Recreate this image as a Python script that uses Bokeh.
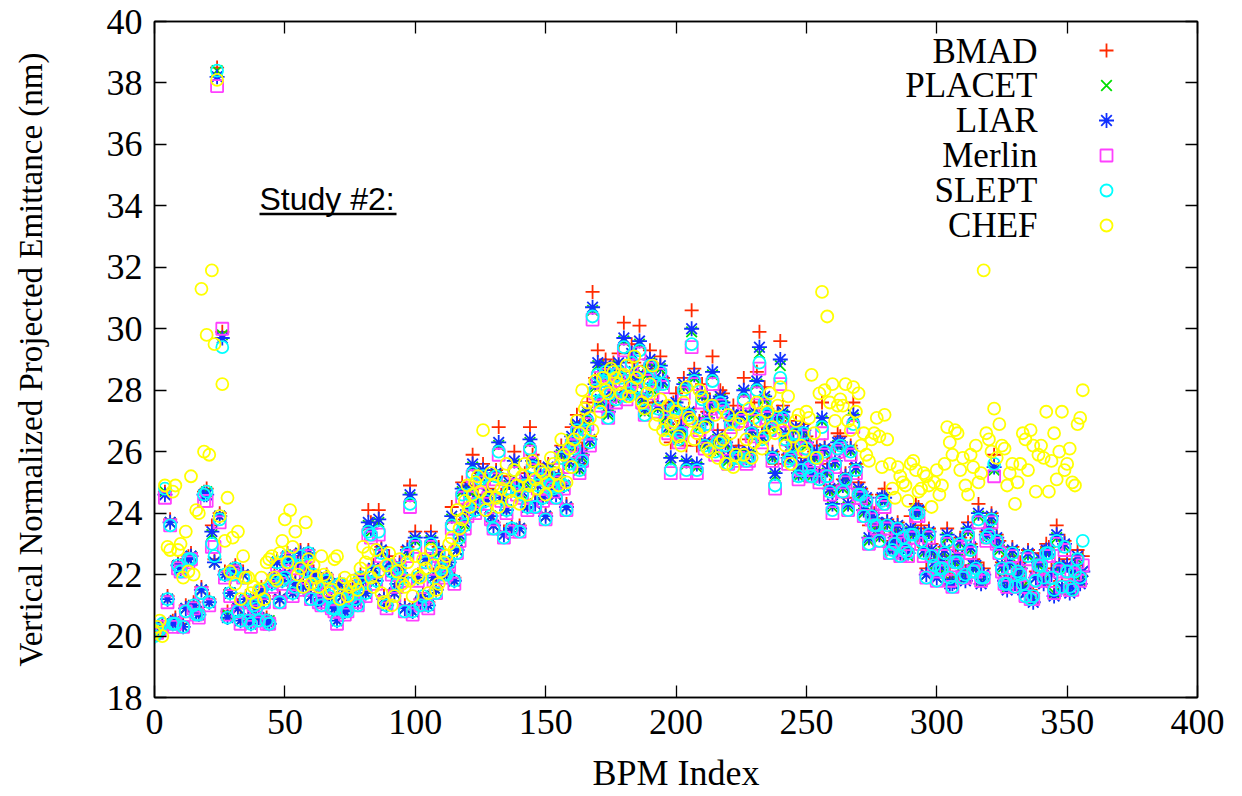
from bokeh.plotting import figure
from bokeh.models import Range1d, LinearAxis, Label, FixedTicker, CustomJSTickFormatter
from bokeh.embed import file_html
from bokeh.resources import INLINE

# ---------------- data ----------------
bpm_even = list(range(0, 357, 2))
bpm_odd = list(range(1, 356, 2))

bmad_even = [
    20.1, 20.3, 24.7, 23.8, 20.6, 22.3, 21.0, 22.7, 20.9, 21.6,
    24.8, 23.6, 38.5, 29.9, 20.8, 22.2, 21.0, 22.1, 20.6, 21.2,
    20.7, 21.3, 20.5, 22.0, 21.3, 22.1, 22.6, 21.8, 22.8, 22.3,
    21.4, 21.9, 21.2, 22.0, 21.1, 20.6, 21.4, 21.0, 21.6, 21.2,
    21.9, 24.1, 22.3, 24.1, 21.3, 22.6, 21.5, 22.4, 21.0, 24.9,
    23.4, 21.2, 22.6, 23.4, 21.6, 22.4, 22.2, 24.2, 22.9, 25.0,
    24.3, 25.9, 24.6, 25.6, 24.8, 23.7, 26.8, 23.4, 25.2, 26.0,
    23.6, 25.3, 26.8, 24.4, 25.5, 24.0, 25.3, 24.8, 26.2, 24.3,
    26.8, 27.2, 26.1, 27.6, 31.2, 29.3, 28.8, 27.5, 28.9, 29.2,
    30.2, 28.3, 28.9, 30.1, 27.6, 29.3, 28.7, 29.1, 27.4, 26.3,
    27.9, 27.0, 26.2, 30.6, 26.2, 28.2, 27.3, 29.1, 26.7, 27.9,
    26.0, 27.5, 26.2, 28.4, 26.4, 27.6, 29.9, 28.1, 27.1, 25.6,
    29.6, 26.8, 26.2, 27.0, 25.8, 26.5, 25.4, 26.2, 27.6, 25.6,
    24.7, 26.6, 25.1, 24.5, 27.6, 25.0, 24.3, 23.6, 24.0, 23.5,
    24.8, 23.1, 23.4, 22.9, 23.2, 23.9, 24.3, 23.6, 22.2, 23.0,
    22.1, 22.6, 23.5, 21.9, 22.8, 22.3, 23.7, 22.5, 24.3, 22.2,
    23.7, 25.9, 23.1, 22.0, 22.6, 21.9, 22.4, 21.6, 21.5, 22.1,
    22.7, 23.0, 22.2, 23.6, 21.8, 22.5, 21.9, 22.8, 22.6,
]
bmad_odd = [
    20.2, 20.4, 21.3, 20.5, 22.4, 20.4, 22.6, 21.1, 20.8, 24.7,
    21.2, 22.5, 24.0, 22.1, 21.5, 22.3, 20.6, 21.3, 20.5, 21.0,
    21.6, 20.6, 21.8, 22.5, 21.9, 22.7, 21.5, 22.4, 21.7, 22.8,
    22.1, 21.3, 21.7, 21.4, 21.0, 21.8, 20.9, 21.5, 21.3, 22.0,
    21.5, 23.7, 21.9, 22.9, 21.1, 22.2, 21.8, 22.0, 22.9, 20.9,
    22.0, 21.4, 21.1, 22.0, 22.9, 22.1, 22.5, 21.9, 23.4, 23.8,
    24.9, 24.2, 25.3, 24.5, 24.0, 25.4, 24.6, 24.2, 23.6, 24.9,
    24.8, 24.3, 25.9, 25.0, 24.6, 25.6, 24.9, 25.3, 25.0, 25.8,
    26.3, 25.6, 27.0, 26.5, 28.4, 27.8, 29.0, 28.1, 27.9, 28.6,
    28.0, 29.5, 28.4, 27.9, 28.8, 28.2, 27.6, 28.4, 26.9, 27.6,
    26.6, 28.4, 27.4, 28.7, 27.0, 26.4, 27.7, 26.2, 28.0, 26.4,
    27.1, 26.0, 27.3, 25.9, 26.8, 28.6, 26.6, 27.4, 26.0, 27.3,
    27.5, 25.9, 26.4, 25.4, 26.9, 25.7, 26.0, 25.3, 26.2, 24.9,
    25.8, 26.5, 25.3, 26.2, 25.6, 24.8, 24.6, 24.1, 23.8, 24.6,
    23.8, 23.0, 23.7, 23.4, 22.8, 23.5, 24.2, 22.9, 23.5, 22.5,
    22.4, 22.9, 22.0, 22.6, 23.2, 22.1, 23.0, 22.4, 22.0, 23.4,
    24.0, 23.3, 22.4, 21.8, 22.9, 22.2, 21.8, 22.8, 21.4, 22.5,
    22.0, 22.9, 21.6, 22.4, 23.1, 21.7, 22.3, 22.0,
]

placet_even = [
    20.1, 20.2, 24.7, 23.7, 20.5, 22.2, 20.9, 22.6, 20.8, 21.5,
    24.7, 23.3, 38.4, 29.8, 20.7, 22.1, 20.9, 22.0, 20.6, 21.1,
    20.6, 21.2, 20.5, 21.9, 21.2, 22.0, 22.5, 21.7, 22.7, 22.2,
    21.3, 21.8, 21.1, 21.9, 21.0, 20.5, 21.3, 20.9, 21.5, 21.1,
    21.8, 23.6, 22.2, 23.7, 21.2, 22.4, 21.4, 22.3, 20.9, 24.5,
    23.1, 21.1, 22.5, 23.1, 21.5, 22.3, 22.1, 23.8, 22.8, 24.7,
    24.1, 25.5, 24.4, 25.3, 24.6, 23.6, 26.2, 23.3, 24.9, 25.6,
    23.5, 25.0, 26.3, 24.3, 25.2, 23.9, 25.0, 24.6, 25.9, 24.2,
    26.4, 26.8, 25.8, 27.2, 30.6, 28.8, 28.4, 27.2, 28.5, 28.8,
    29.6, 28.0, 28.5, 29.5, 27.3, 28.9, 28.3, 28.7, 27.1, 25.7,
    27.5, 26.7, 25.6, 29.9, 25.5, 27.8, 27.0, 28.5, 26.4, 27.5,
    25.7, 27.1, 25.9, 27.9, 25.9, 27.2, 29.2, 27.7, 26.8, 25.2,
    28.8, 26.5, 25.9, 26.7, 25.5, 26.2, 25.2, 25.9, 27.0, 25.3,
    24.2, 26.2, 24.8, 24.2, 27.1, 24.7, 24.0, 23.1, 23.7, 23.2,
    24.4, 22.8, 23.1, 22.6, 22.9, 23.4, 24.0, 23.2, 22.0, 22.7,
    21.9, 22.3, 23.2, 21.7, 22.5, 22.0, 23.4, 22.2, 23.9, 22.0,
    23.4, 25.4, 22.8, 21.8, 22.3, 21.7, 22.1, 21.4, 21.3, 21.9,
    22.4, 22.7, 22.0, 23.2, 21.6, 22.2, 21.6, 22.5, 22.1,
]
placet_odd = [
    20.1, 20.3, 21.2, 20.4, 22.3, 20.3, 22.5, 21.0, 20.7, 24.6,
    21.1, 22.4, 23.9, 22.0, 21.4, 22.2, 20.5, 21.2, 20.4, 20.9,
    21.5, 20.5, 21.7, 22.4, 21.8, 22.6, 21.4, 22.3, 21.6, 22.7,
    22.0, 21.2, 21.6, 21.3, 20.9, 21.7, 20.8, 21.4, 21.2, 21.9,
    21.4, 23.4, 21.8, 22.7, 21.0, 22.1, 21.7, 21.9, 22.7, 20.8,
    21.9, 21.3, 21.0, 21.9, 22.7, 22.0, 22.4, 21.8, 23.2, 23.6,
    24.7, 24.1, 25.1, 24.4, 23.9, 25.2, 24.5, 24.1, 23.5, 24.7,
    24.6, 24.2, 25.6, 24.9, 24.5, 25.4, 24.8, 25.1, 24.9, 25.6,
    26.1, 25.4, 26.8, 26.3, 28.1, 27.6, 28.7, 27.9, 27.7, 28.4,
    27.8, 29.1, 28.2, 27.7, 28.5, 28.0, 27.4, 28.2, 26.7, 27.4,
    26.4, 28.1, 27.2, 28.4, 26.8, 26.2, 27.5, 26.0, 27.7, 26.2,
    26.9, 25.8, 27.1, 25.7, 26.6, 28.2, 26.4, 27.2, 25.8, 27.1,
    27.2, 25.7, 26.2, 25.2, 26.6, 25.5, 25.8, 25.1, 26.0, 24.7,
    25.6, 26.2, 25.1, 26.0, 25.4, 24.6, 24.4, 23.9, 23.6, 24.4,
    23.6, 22.8, 23.5, 23.2, 22.6, 23.3, 24.0, 22.7, 23.3, 22.3,
    22.2, 22.7, 21.8, 22.4, 23.0, 21.9, 22.8, 22.2, 21.8, 23.2,
    23.8, 23.1, 22.2, 21.6, 22.7, 22.0, 21.6, 22.6, 21.2, 22.3,
    21.8, 22.7, 21.4, 22.2, 22.9, 21.5, 22.1, 21.8,
]

liar_even = [
    20.0, 20.2, 24.6, 23.7, 20.5, 22.2, 20.9, 22.6, 20.8, 21.5,
    24.6, 23.4, 38.2, 29.7, 20.6, 22.1, 20.9, 22.0, 20.6, 21.1,
    20.6, 21.2, 20.4, 21.9, 21.2, 22.0, 22.5, 21.7, 22.7, 22.2,
    21.3, 21.8, 21.1, 21.9, 21.0, 20.5, 21.3, 20.9, 21.5, 21.1,
    21.8, 23.7, 22.2, 23.8, 21.2, 22.4, 21.4, 22.3, 20.9, 24.6,
    23.2, 21.1, 22.5, 23.2, 21.5, 22.3, 22.1, 23.9, 22.8, 24.8,
    24.1, 25.6, 24.4, 25.4, 24.6, 23.6, 26.3, 23.3, 25.0, 25.7,
    23.5, 25.1, 26.4, 24.3, 25.3, 23.9, 25.1, 24.6, 26.0, 24.2,
    26.5, 26.9, 25.9, 27.3, 30.7, 28.9, 28.5, 27.3, 28.6, 28.9,
    29.7, 28.1, 28.6, 29.6, 27.4, 29.0, 28.4, 28.8, 27.2, 25.8,
    27.6, 26.8, 25.7, 30.0, 25.6, 27.9, 27.1, 28.6, 26.5, 27.6,
    25.8, 27.2, 26.0, 28.0, 26.0, 27.3, 29.4, 27.8, 26.9, 25.3,
    29.0, 26.6, 26.0, 26.8, 25.6, 26.3, 25.3, 26.0, 27.1, 25.4,
    24.3, 26.3, 24.9, 24.3, 27.2, 24.8, 24.1, 23.2, 23.8, 23.3,
    24.5, 22.9, 23.2, 22.7, 23.0, 23.5, 24.1, 23.3, 22.0, 22.8,
    21.9, 22.4, 23.3, 21.7, 22.6, 22.1, 23.5, 22.3, 24.0, 22.0,
    23.5, 25.5, 22.9, 21.8, 22.4, 21.7, 22.2, 21.4, 21.3, 21.9,
    22.5, 22.8, 22.0, 23.3, 21.6, 22.3, 21.6, 22.6, 22.1,
]
liar_odd = [
    20.1, 20.3, 21.2, 20.4, 22.3, 20.3, 22.5, 21.0, 20.7, 24.6,
    21.1, 22.4, 23.9, 22.0, 21.4, 22.2, 20.5, 21.2, 20.4, 20.9,
    21.5, 20.5, 21.7, 22.4, 21.8, 22.6, 21.4, 22.3, 21.6, 22.7,
    22.0, 21.2, 21.6, 21.3, 20.9, 21.7, 20.8, 21.4, 21.2, 21.9,
    21.4, 23.5, 21.8, 22.8, 21.0, 22.1, 21.7, 21.9, 22.8, 20.8,
    21.9, 21.3, 21.0, 21.9, 22.8, 22.0, 22.4, 21.8, 23.3, 23.7,
    24.8, 24.1, 25.2, 24.4, 23.9, 25.3, 24.5, 24.1, 23.5, 24.8,
    24.7, 24.2, 25.7, 24.9, 24.5, 25.5, 24.8, 25.2, 24.9, 25.7,
    26.2, 25.5, 26.9, 26.4, 28.2, 27.7, 28.8, 28.0, 27.8, 28.5,
    27.9, 29.2, 28.3, 27.8, 28.6, 28.1, 27.5, 28.3, 26.8, 27.5,
    26.5, 28.2, 27.3, 28.5, 26.9, 26.3, 27.6, 26.1, 27.8, 26.3,
    27.0, 25.9, 27.2, 25.8, 26.7, 28.3, 26.5, 27.3, 25.9, 27.2,
    27.3, 25.8, 26.3, 25.3, 26.7, 25.6, 25.9, 25.2, 26.1, 24.8,
    25.7, 26.3, 25.2, 26.1, 25.5, 24.7, 24.5, 24.0, 23.7, 24.5,
    23.7, 22.9, 23.6, 23.3, 22.7, 23.4, 24.1, 22.8, 23.4, 22.4,
    22.3, 22.8, 21.7, 22.5, 23.1, 21.8, 22.9, 22.3, 21.7, 23.3,
    23.9, 23.2, 22.3, 21.5, 22.8, 21.9, 21.5, 22.7, 21.1, 22.4,
    21.7, 22.8, 21.3, 22.3, 23.0, 21.4, 22.2, 21.7,
]

merlin_even = [
    20.1, 20.2, 24.5, 23.6, 20.4, 22.1, 20.8, 22.5, 20.7, 21.4,
    24.4, 22.9, 37.9, 30.0, 20.7, 22.0, 20.8, 21.9, 20.5, 21.0,
    20.5, 21.1, 20.4, 21.8, 21.1, 21.9, 22.4, 21.6, 22.6, 22.1,
    21.2, 21.7, 21.0, 21.8, 20.9, 20.4, 21.2, 20.8, 21.4, 21.0,
    21.7, 23.3, 22.1, 23.3, 21.1, 22.3, 21.3, 22.2, 20.8, 24.2,
    22.9, 21.0, 22.4, 22.9, 21.4, 22.2, 22.0, 23.5, 22.7, 24.5,
    23.9, 25.2, 24.3, 25.1, 24.5, 23.5, 25.9, 23.2, 24.8, 25.3,
    23.4, 24.9, 26.0, 24.2, 25.1, 23.8, 24.9, 24.5, 25.8, 24.1,
    26.2, 26.6, 25.7, 26.9, 30.3, 28.4, 28.2, 27.1, 28.3, 28.5,
    29.3, 27.9, 28.3, 29.2, 27.2, 28.7, 28.2, 28.5, 27.0, 25.3,
    27.3, 26.6, 25.3, 29.4, 25.3, 27.6, 26.9, 28.2, 26.3, 27.3,
    25.6, 26.9, 25.8, 27.6, 25.7, 27.0, 28.7, 27.5, 26.7, 24.8,
    28.2, 26.4, 25.8, 26.6, 25.4, 26.1, 25.2, 25.8, 26.6, 25.2,
    24.0, 26.0, 24.7, 24.1, 26.8, 24.6, 23.9, 23.0, 23.6, 23.1,
    24.2, 22.7, 23.0, 22.6, 22.8, 23.2, 23.9, 23.0, 21.9, 22.6,
    21.8, 22.2, 23.0, 21.6, 22.4, 21.9, 23.2, 22.1, 23.7, 21.9,
    23.2, 25.2, 22.7, 21.7, 22.2, 21.6, 22.0, 21.3, 21.2, 21.8,
    22.3, 22.6, 21.9, 23.0, 21.6, 22.1, 21.5, 22.4, 22.3,
]
merlin_odd = [
    20.1, 20.3, 21.1, 20.3, 22.2, 20.3, 22.4, 20.9, 20.6, 24.4,
    21.0, 22.9, 23.7, 21.9, 21.3, 22.1, 20.4, 21.1, 20.3, 20.8,
    21.4, 20.4, 21.6, 22.3, 21.7, 22.5, 21.3, 22.2, 21.5, 22.6,
    21.9, 21.1, 21.5, 21.2, 20.8, 21.6, 20.7, 21.3, 21.1, 21.8,
    21.3, 23.2, 21.7, 22.6, 20.9, 22.0, 21.6, 21.8, 22.6, 20.7,
    21.8, 21.2, 20.9, 21.8, 22.6, 21.9, 22.3, 21.7, 23.1, 23.5,
    24.5, 24.0, 25.0, 24.3, 23.8, 25.1, 24.4, 24.0, 23.4, 24.6,
    24.5, 24.1, 25.4, 24.8, 24.4, 25.2, 24.7, 25.0, 24.8, 25.5,
    26.0, 25.3, 26.6, 26.2, 27.9, 27.5, 28.5, 27.8, 27.6, 28.3,
    27.7, 28.8, 28.0, 27.6, 28.3, 27.9, 27.3, 28.1, 26.6, 27.3,
    26.3, 27.9, 27.1, 28.2, 26.7, 26.1, 27.4, 25.9, 27.5, 26.1,
    26.8, 25.7, 27.0, 25.6, 26.5, 27.9, 26.3, 27.1, 25.7, 27.0,
    27.0, 25.6, 26.1, 25.1, 26.5, 25.4, 25.7, 25.0, 25.9, 24.6,
    25.5, 26.1, 25.0, 25.9, 25.3, 24.5, 24.3, 23.8, 23.5, 24.3,
    23.5, 22.7, 23.4, 23.1, 22.6, 23.2, 23.9, 22.6, 23.2, 22.2,
    22.1, 22.6, 21.8, 22.3, 22.9, 21.9, 22.7, 22.1, 21.8, 23.1,
    23.7, 23.0, 22.1, 21.6, 22.6, 22.0, 21.6, 22.5, 21.2, 22.2,
    21.8, 22.6, 21.4, 22.1, 22.8, 21.5, 22.0, 21.8,
]

slept_even = [
    20.0, 20.2, 24.8, 23.6, 20.4, 22.1, 20.8, 22.5, 20.7, 21.4,
    24.7, 23.0, 38.4, 29.4, 20.6, 22.0, 20.8, 21.9, 20.5, 21.0,
    20.5, 21.1, 20.4, 21.8, 21.1, 21.9, 22.4, 21.6, 22.6, 22.1,
    21.2, 21.7, 21.0, 21.8, 20.9, 20.5, 21.2, 20.8, 21.4, 21.0,
    21.7, 23.4, 22.1, 23.4, 21.1, 22.3, 21.3, 22.2, 20.8, 24.3,
    23.0, 21.0, 22.4, 23.0, 21.4, 22.2, 22.0, 23.6, 22.7, 24.6,
    24.0, 25.3, 24.3, 25.2, 24.5, 23.5, 26.0, 23.2, 24.8, 25.4,
    23.4, 24.9, 26.1, 24.2, 25.1, 23.8, 24.9, 24.5, 25.8, 24.1,
    26.3, 26.7, 25.7, 27.0, 30.4, 28.5, 28.3, 27.1, 28.4, 28.6,
    29.4, 27.9, 28.4, 29.3, 27.2, 28.8, 28.2, 28.6, 27.0, 25.4,
    27.4, 26.6, 25.4, 29.5, 25.4, 27.7, 26.9, 28.3, 26.3, 27.4,
    25.6, 27.0, 25.8, 27.7, 25.8, 27.1, 28.9, 27.6, 26.7, 24.9,
    28.4, 26.4, 25.8, 26.6, 25.4, 26.1, 25.2, 25.8, 26.8, 25.2,
    24.1, 26.1, 24.7, 24.1, 26.9, 24.6, 23.9, 23.0, 23.6, 23.1,
    24.3, 22.7, 23.0, 22.6, 22.8, 23.3, 24.0, 23.1, 21.9, 22.6,
    21.8, 22.2, 23.1, 21.6, 22.4, 21.9, 23.3, 22.1, 23.8, 21.9,
    23.3, 25.6, 22.7, 21.7, 22.2, 21.6, 22.0, 21.3, 21.2, 21.8,
    22.3, 22.7, 21.9, 23.1, 21.6, 22.1, 21.5, 22.5, 23.1,
]
slept_odd = [
    20.1, 20.4, 21.2, 20.4, 22.3, 20.3, 22.5, 21.0, 20.7, 24.6,
    21.1, 22.6, 23.8, 22.0, 21.4, 22.2, 20.5, 21.2, 20.4, 20.9,
    21.5, 20.5, 21.7, 22.4, 21.8, 22.6, 21.4, 22.3, 21.6, 22.7,
    22.0, 21.2, 21.6, 21.3, 20.9, 21.7, 20.8, 21.4, 21.2, 21.9,
    21.4, 23.3, 21.8, 22.7, 21.0, 22.1, 21.7, 21.9, 22.7, 20.8,
    21.9, 21.3, 21.0, 21.9, 22.7, 22.0, 22.4, 21.8, 23.2, 23.6,
    24.6, 24.1, 25.1, 24.4, 23.9, 25.2, 24.5, 24.1, 23.5, 24.7,
    24.6, 24.2, 25.5, 24.9, 24.5, 25.3, 24.8, 25.1, 24.9, 25.6,
    26.1, 25.4, 26.7, 26.3, 28.0, 27.6, 28.6, 27.9, 27.7, 28.4,
    27.8, 28.9, 28.1, 27.7, 28.4, 28.0, 27.4, 28.2, 26.7, 27.4,
    26.4, 28.0, 27.2, 28.3, 26.8, 26.2, 27.5, 26.0, 27.6, 26.2,
    26.9, 25.8, 27.1, 25.7, 26.6, 28.0, 26.4, 27.2, 25.8, 27.1,
    27.1, 25.7, 26.2, 25.2, 26.6, 25.5, 25.8, 25.1, 26.0, 24.7,
    25.6, 26.2, 25.1, 26.0, 25.4, 24.6, 24.4, 23.9, 23.6, 24.4,
    23.6, 22.8, 23.5, 23.2, 22.7, 23.3, 24.0, 22.7, 23.3, 22.3,
    22.2, 22.7, 21.9, 22.4, 23.0, 22.0, 22.8, 22.2, 21.9, 23.2,
    23.8, 23.1, 22.2, 21.7, 22.7, 22.1, 21.7, 22.6, 21.3, 22.3,
    21.9, 22.7, 21.5, 22.2, 22.9, 21.6, 22.1, 21.9,
]

chef_even = [
    20.1, 20.5, 24.9, 22.8, 24.9, 23.0, 23.4, 25.2, 24.1, 31.3,
    29.8, 31.9, 38.1, 28.2, 24.5, 23.2, 23.4, 22.6, 21.9, 21.6,
    21.5, 21.2, 22.5, 21.9, 22.7, 23.8, 24.1, 23.4, 22.2, 23.7,
    21.7, 21.9, 22.6, 21.9, 21.5, 22.6, 21.7, 21.3, 21.8, 21.5,
    22.9, 22.7, 21.6, 22.1, 21.1, 22.7, 21.3, 22.5, 21.6, 21.8,
    22.6, 21.9, 22.2, 22.8, 21.5, 22.1, 22.6, 23.2, 24.1, 23.8,
    24.9, 24.6, 25.2, 26.7, 24.5, 24.9, 24.2, 25.1, 24.7, 25.4,
    24.3, 25.6, 24.9, 25.1, 25.4, 24.6, 25.8, 25.3, 26.4, 25.0,
    25.5, 27.0, 28.0, 27.6, 26.7, 27.8, 28.4, 27.9, 28.6, 28.2,
    28.5, 27.8, 29.1, 28.6, 27.4, 28.2, 26.9, 27.7, 26.4, 26.9,
    27.3, 26.2, 28.1, 27.0, 26.6, 27.8, 26.1, 27.5, 25.8, 26.4,
    27.2, 25.5, 26.9, 25.9, 27.4, 26.3, 27.0, 26.5, 27.9, 26.6,
    28.1, 26.2, 25.6, 27.0, 26.2, 27.3, 28.5, 25.8, 31.2, 30.4,
    28.2, 27.5, 27.5, 27.0, 28.1, 27.9, 26.6, 25.7, 26.6, 26.5,
    27.2, 25.6, 24.5, 25.2, 24.9, 25.6, 25.4, 24.8, 25.2, 24.2,
    25.4, 24.9, 26.8, 25.9, 26.6, 25.8, 24.6, 25.5, 25.0, 31.9,
    26.4, 27.4, 26.9, 26.1, 25.3, 24.3, 25.6, 26.4, 26.7, 24.7,
    26.2, 27.3, 25.7, 25.1, 27.3, 25.6, 25.0, 26.9, 28.0,
]
chef_odd = [
    20.3, 20.0, 22.9, 24.7, 22.8, 21.9, 22.1, 22.0, 24.0, 26.0,
    25.9, 29.5, 23.9, 23.1, 22.1, 21.7, 21.2, 21.9, 21.4, 21.1,
    21.9, 22.4, 22.6, 21.8, 23.1, 22.4, 22.9, 22.0, 21.6, 22.5,
    22.3, 21.6, 22.0, 21.4, 22.5, 21.2, 21.9, 21.6, 21.7, 22.2,
    22.4, 21.9, 22.8, 21.4, 22.3, 21.0, 22.1, 21.7, 22.4, 21.3,
    22.0, 22.5, 21.4, 22.3, 21.7, 22.4, 23.0, 22.8, 23.5, 24.4,
    24.2, 25.0, 24.7, 24.1, 25.3, 24.5, 24.8, 25.6, 24.4, 24.9,
    25.2, 24.6, 25.7, 24.8, 25.3, 25.0, 25.6, 24.9, 25.9, 26.1,
    26.4, 26.6, 27.4, 27.1, 28.3, 27.3, 28.0, 28.7, 28.4, 27.9,
    28.8, 28.1, 28.4, 27.6, 27.9, 28.8, 27.2, 26.7, 27.5, 27.0,
    26.5, 27.6, 27.1, 26.4, 28.0, 26.8, 26.0, 27.2, 26.3, 25.6,
    26.6, 25.9, 27.1, 26.4, 25.8, 27.6, 26.1, 27.3, 26.8, 27.5,
    26.7, 27.8, 26.5, 27.2, 26.0, 27.1, 26.6, 27.9, 28.0, 27.6,
    27.0, 27.7, 28.2, 26.7, 27.3, 26.2, 25.9, 26.4, 27.1, 25.5,
    26.4, 24.8, 25.5, 25.0, 24.4, 25.7, 24.7, 25.3, 24.9, 25.0,
    24.6, 25.6, 26.3, 26.7, 25.4, 24.9, 25.9, 26.2, 25.3, 26.6,
    26.0, 25.8, 26.2, 24.9, 25.6, 25.0, 26.6, 25.4, 26.2, 25.9,
    25.8, 24.7, 26.6, 26.0, 25.4, 26.1, 24.9, 27.1,
]

series_names = ["BMAD", "PLACET", "LIAR", "Merlin", "SLEPT", "CHEF"]
series_values = [
    (bmad_even, bmad_odd), (placet_even, placet_odd), (liar_even, liar_odd),
    (merlin_even, merlin_odd), (slept_even, slept_odd), (chef_even, chef_odd),
]
x_ticks = [0, 50, 100, 150, 200, 250, 300, 350, 400]
y_ticks = [18, 20, 22, 24, 26, 28, 30, 32, 34, 36, 38, 40]

# ---------------- styles ----------------
markers = ["cross", "x", "asterisk", "square", "circle", "circle"]
colors = ["#ff2a00", "#00e000", "#1030ff", "#ff40ff", "#00ffff", "#ffff00"]
sizes = [14, 15, 15, 12, 12, 12]
SERIF = "Liberation Serif"

p = figure(width=1242, height=796, output_backend="svg", toolbar_location=None,
           x_range=Range1d(0, 400), y_range=Range1d(18, 40),
           min_border_left=154, min_border_right=45, min_border_top=21,
           min_border_bottom=99,
           x_axis_label="BPM Index",
           y_axis_label="Vertical Normalized Projected Emittance (nm)")
p.background_fill_color = "white"
p.border_fill_color = "white"
p.outline_line_color = "black"
p.outline_line_width = 1.5
p.xgrid.visible = False
p.ygrid.visible = False

p.add_layout(LinearAxis(), "above")
p.add_layout(LinearAxis(), "right")


def style_axis(ax, ticks, show_labels):
    ax.ticker = FixedTicker(ticks=ticks)
    ax.major_tick_in = 12
    ax.major_tick_out = 0
    ax.minor_tick_in = 0
    ax.minor_tick_out = 0
    ax.axis_line_color = "black"
    ax.axis_line_width = 1.5
    ax.major_tick_line_color = "black"
    ax.major_tick_line_width = 1.3
    ax.major_label_text_font = SERIF
    ax.major_label_text_font_size = "36px"
    ax.major_label_text_color = "black"
    ax.major_label_standoff = 12
    ax.axis_label_text_font = SERIF
    ax.axis_label_text_font_size = "36px"
    ax.axis_label_text_font_style = "normal"
    ax.axis_label_text_color = "black"
    if not show_labels:
        ax.formatter = CustomJSTickFormatter(code="return ''")
        ax.major_label_standoff = 0


style_axis(p.below[0], x_ticks, True)
style_axis(p.left[0], y_ticks, True)
style_axis(p.above[0], x_ticks, False)
style_axis(p.right[0], y_ticks, False)
p.below[0].axis_label_standoff = 16
p.left[0].axis_label_standoff = 55
p.left[0].axis_label_text_font_size = "33px"

for name, (ev, od), mk, col, sz in zip(series_names, series_values, markers, colors, sizes):
    p.scatter(bpm_even + bpm_odd, ev + od, marker=mk, size=sz, line_color=col,
              fill_color=None, line_width=1.8)

# ---------------- key (gnuplot style: label then sample) ----------------
PX_PER_Y = 676 / 22.0
PX_PER_X = 1043 / 400.0
def ydata(px):
    return 40 - (px - 21) / PX_PER_Y
def xdata(px):
    return (px - 154) / PX_PER_X

key_text_x = xdata(1037)
key_mark_x = xdata(1106)
for i, (name, mk, col, sz) in enumerate(zip(series_names, markers, colors, sizes)):
    p.add_layout(Label(x=key_text_x, y=ydata(50.5 + 34.9 * i), text=name,
                       text_align="right", text_baseline="alphabetic",
                       text_font=SERIF, text_font_size="35px", text_color="black"))
    p.scatter([key_mark_x], [ydata(50 + 35 * i)], marker=mk, size=sz,
              line_color=col, fill_color=None, line_width=1.8)

# ---------------- "Study #2:" annotation ----------------
p.add_layout(Label(x=xdata(259), y=ydata(198), text="Study #2:",
                   text_align="left", text_baseline="alphabetic",
                   text_font="Liberation Sans", text_font_size="32px",
                   text_color="black"))
p.segment(x0=[xdata(259)], y0=[ydata(213.5)], x1=[xdata(396)], y1=[ydata(213.5)],
          line_color="black", line_width=2.5)

open("out.html", "w").write(file_html(p, INLINE))
